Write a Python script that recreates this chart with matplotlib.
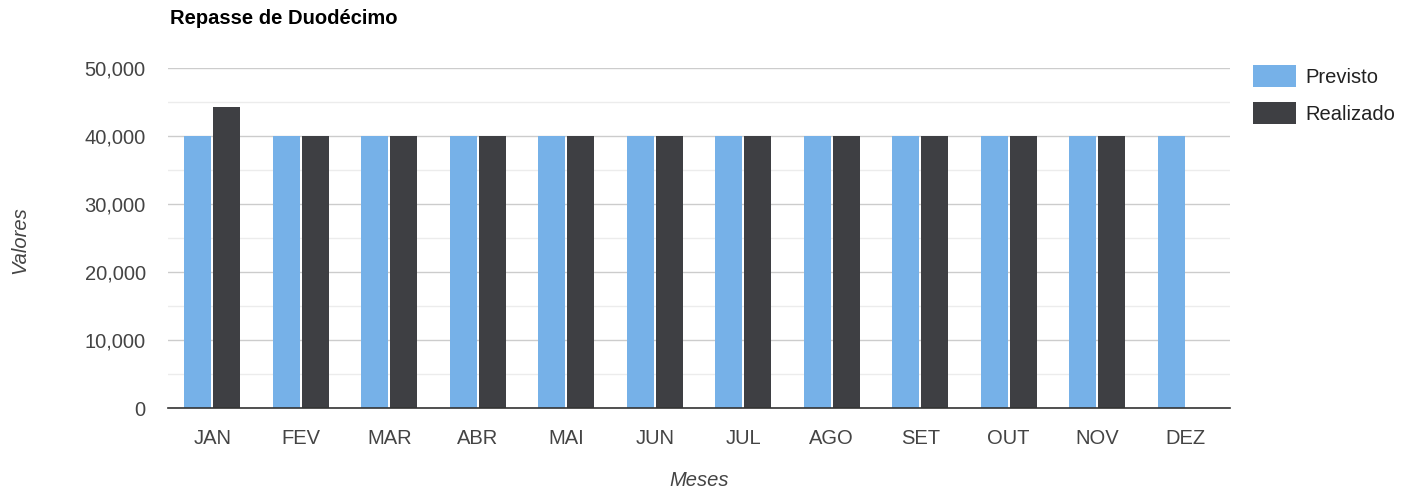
import numpy as np
import matplotlib.pyplot as plt
from matplotlib.ticker import MultipleLocator, FuncFormatter

meses = ["JAN", "FEV", "MAR", "ABR", "MAI", "JUN", "JUL", "AGO", "SET", "OUT", "NOV", "DEZ"]
previsto = [40000, 40000, 40000, 40000, 40000, 40000, 40000, 40000, 40000, 40000, 40000, 40000]
realizado = [44300, 40000, 40000, 40000, 40000, 40000, 40000, 40000, 40000, 40000, 40000, 0]

plt.rcParams['font.family'] = ['Liberation Sans', 'DejaVu Sans']

fig = plt.figure(figsize=(14.17, 4.91), dpi=100)
ax = fig.add_axes([168 / 1417, 1 - 408 / 491, (1230 - 168) / 1417, (408 - 68) / 491])

x = np.arange(len(meses))
w = 0.305
ax.bar(x - w / 2 - 0.01, previsto, width=w, color="#76b1e8", label="Previsto", zorder=3)
ax.bar(x + w / 2 + 0.01, realizado, width=w, color="#3e3f43", label="Realizado", zorder=3)

ax.set_xlim(-0.5, len(meses) - 0.5)
ax.set_ylim(0, 50000)
ax.yaxis.set_major_locator(MultipleLocator(10000))
ax.yaxis.set_minor_locator(MultipleLocator(5000))
ax.yaxis.set_major_formatter(FuncFormatter(lambda v, p: f"{int(v):,}"))
ax.grid(axis="y", which="major", color="#cccccc", linewidth=1, zorder=0)
ax.grid(axis="y", which="minor", color="#ececec", linewidth=1, zorder=0)

for s in ["top", "right", "left"]:
    ax.spines[s].set_visible(False)
ax.spines["bottom"].set_color("#333333")
ax.spines["bottom"].set_linewidth(1.2)
ax.spines["bottom"].set_zorder(4)

ax.set_xticks(x)
ax.set_xticklabels(meses)
ax.tick_params(axis="both", which="both", length=0, labelsize=14.5, labelcolor="#444444")
ax.tick_params(axis="y", pad=16)
ax.tick_params(axis="x", pad=15)

fig.text(20 / 1417, 1 - 240 / 491, "Valores", rotation=90, style="italic",
         fontsize=14.5, color="#444444", ha="center", va="center")
fig.text(699 / 1417, 1 - 480 / 491, "Meses", style="italic",
         fontsize=14.5, color="#444444", ha="center", va="center")
fig.text(170 / 1417, 1 - 19 / 491, "Repasse de Duodécimo", fontweight="bold",
         fontsize=14.5, color="#000000", ha="left", va="center")

ax.legend(loc="upper left", bbox_to_anchor=(1253 / 1417, 1 - 65 / 491),
          bbox_transform=fig.transFigure, frameon=False, fontsize=14.5,
          handlelength=2.15, handleheight=1.3, handletextpad=0.45,
          labelspacing=0.75, borderpad=0, borderaxespad=0, labelcolor="#222222")

plt.savefig("out.png", dpi=100)
